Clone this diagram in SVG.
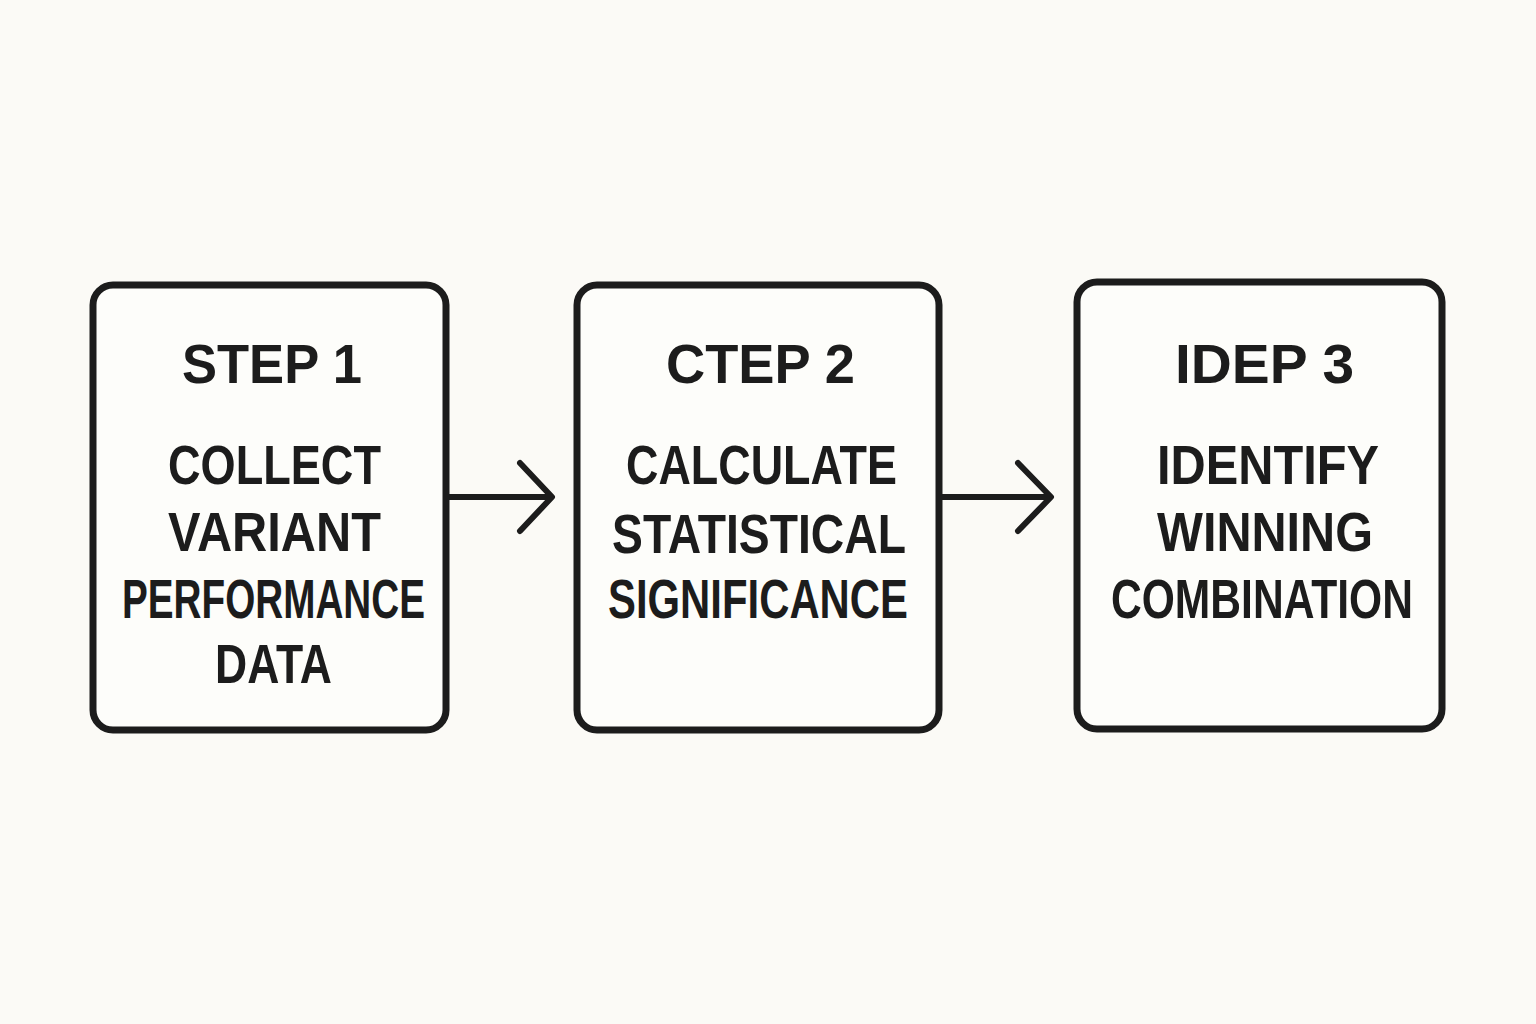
<svg xmlns="http://www.w3.org/2000/svg" width="1536" height="1024" viewBox="0 0 1536 1024">
<style>
.box{fill:#fdfdfa;stroke:#1c1c1c;stroke-width:7}
.t{font-family:"Liberation Sans","DejaVu Sans",sans-serif;font-weight:700;font-size:55px;fill:#1c1c1c;text-anchor:start}
.c{fill:none;stroke:#1c1c1c;stroke-width:6;stroke-linecap:round;stroke-linejoin:round}
</style>
<rect width="1536" height="1024" fill="#fbfaf6"/>
<g id="connectors">
<path class="c" d="M448 497 H551 M520 463 L552 497 L520 531"/>
<path class="c" d="M941 497 H1050 M1018 463 L1051 497 L1018 531"/>
</g>
<g id="step1">
<rect class="box" x="93" y="285" width="353" height="445" rx="20"/>
<text class="t" x="182" y="383" textLength="180" lengthAdjust="spacingAndGlyphs">STEP 1</text>
<text class="t" x="168" y="484" textLength="213" lengthAdjust="spacingAndGlyphs">COLLECT</text>
<text class="t" x="168" y="551" textLength="213" lengthAdjust="spacingAndGlyphs">VARIANT</text>
<text class="t" x="122" y="618" textLength="303" lengthAdjust="spacingAndGlyphs">PERFORMANCE</text>
<text class="t" x="215" y="683" textLength="117" lengthAdjust="spacingAndGlyphs">DATA</text>
</g>
<g id="step2">
<rect class="box" x="577" y="285" width="362" height="445" rx="20"/>
<text class="t" x="666" y="383" textLength="189" lengthAdjust="spacingAndGlyphs">CTEP 2</text>
<text class="t" x="626" y="484" textLength="271" lengthAdjust="spacingAndGlyphs">CALCULATE</text>
<text class="t" x="612" y="553" textLength="294" lengthAdjust="spacingAndGlyphs">STATISTICAL</text>
<text class="t" x="608" y="618" textLength="300" lengthAdjust="spacingAndGlyphs">SIGNIFICANCE</text>
</g>
<g id="step3">
<rect class="box" x="1077" y="282" width="365" height="447" rx="20"/>
<text class="t" x="1175" y="383" textLength="179" lengthAdjust="spacingAndGlyphs">IDEP 3</text>
<text class="t" x="1157" y="484" textLength="222" lengthAdjust="spacingAndGlyphs">IDENTIFY</text>
<text class="t" x="1157" y="551" textLength="216" lengthAdjust="spacingAndGlyphs">WINNING</text>
<text class="t" x="1111" y="618" textLength="302" lengthAdjust="spacingAndGlyphs">COMBINATION</text>
</g>
</svg>
